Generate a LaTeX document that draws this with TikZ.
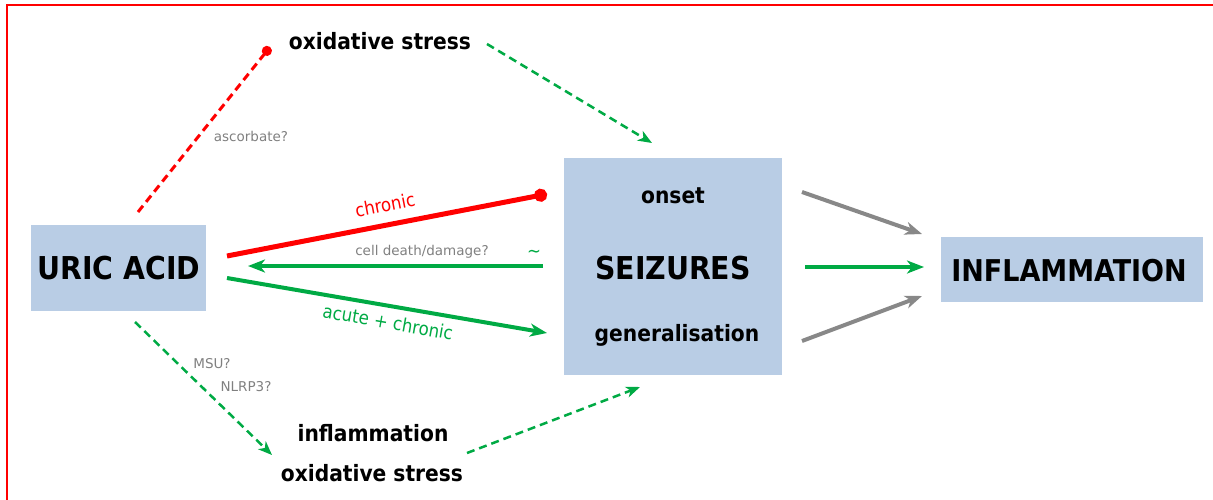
\documentclass[tikz,border=0pt]{standalone}
\usepackage{fontspec}
\setmainfont{DejaVu Sans}
\newfontfamily\cond{DejaVu Sans Condensed}
\usetikzlibrary{arrows.meta}
\definecolor{boxblue}{HTML}{B9CDE5}
\definecolor{mygreen}{HTML}{00AA44}
\definecolor{myred}{HTML}{FF0000}
\definecolor{mygray}{HTML}{888888}
\definecolor{labgray}{HTML}{808080}
\begin{document}
\begin{tikzpicture}[x=1pt,y=-1pt,
  box/.style={fill=boxblue,draw=none,inner sep=0pt},
  big/.style={font=\cond\bfseries\fontsize{31.5}{31.5}\selectfont},
  mid/.style={font=\cond\bfseries\fontsize{22.5}{22.5}\selectfont},
  lab/.style={font=\fontsize{13.5}{13.5}\selectfont,text=labgray,inner sep=0pt},
  colab/.style={font=\cond\fontsize{18.5}{18.5}\selectfont,inner sep=0pt},
  tip/.style={-{Stealth[length=17pt,width=13pt,inset=5pt]}},
  greensolid/.style={draw=mygreen,line width=4pt,tip},
  greendash/.style={draw=mygreen,line width=2.5pt,dash pattern=on 8pt off 5pt,-{Stealth[length=14pt,width=11pt,inset=4pt]}},
  graysolid/.style={draw=mygray,line width=4pt,tip},
]
\useasboundingbox (0,0) rectangle (1213,499);
\draw[myred,line width=1.5pt] (1220,5) -- (7,5) -- (7,510);

% boxes
\fill[box] (31,225) rectangle (206,311);
\node[big] (uric) at (119,268) {URIC ACID};
\fill[box] (564,158) rectangle (782,375);
\node[mid] (onset) at (673,196) {onset};
\node[big] (seiz) at (673,268) {SEIZURES};
\node[mid] (gen) at (677,335) {generalisation};
\fill[box] (941,237) rectangle (1203,302);
\node[font=\cond\bfseries\fontsize{30}{30}\selectfont] (infl) at (1069,271) {INFLAMMATION};

\node[mid] (ox1) at (380,41) {oxidative stress};
\node[mid] (infl2) at (373,433) {inflammation};
\node[mid] (ox2) at (372,473) {oxidative stress};

% coordinates
\coordinate (a1) at (138,212); \coordinate (a2) at (270,47);
\coordinate (b1) at (487,44); \coordinate (b2) at (652,143);
\coordinate (c1) at (227,256); \coordinate (c2) at (547,194);
\coordinate (d1) at (543,266); \coordinate (d2) at (248,266);
\coordinate (e1) at (227,278); \coordinate (e2) at (547,333);
\coordinate (f1) at (135,322); \coordinate (f2) at (272,455);
\coordinate (g1) at (467,453); \coordinate (g2) at (640,387);
\coordinate (h1) at (802,192); \coordinate (h2) at (922,234);
\coordinate (i1) at (805,267); \coordinate (i2) at (924,267);
\coordinate (j1) at (802,341); \coordinate (j2) at (922,296);

\draw[myred,line width=3pt,dash pattern=on 8pt off 5pt,-{Circle[length=10pt,width=10pt]}] (a1) -- (a2);
\draw[greendash] (b1) -- (b2);
\draw[myred,line width=5pt,-{Circle[length=13pt,width=13pt]}] (c1) -- (c2);
\draw[greensolid] (d1) -- (d2);
\draw[greensolid] (e1) -- (e2);
\draw[greendash] (f1) -- (f2);
\draw[greendash] (g1) -- (g2);
\draw[graysolid] (h1) -- (h2);
\draw[greensolid] (i1) -- (i2);
\draw[graysolid] (j1) -- (j2);

% labels
\node[lab] (asc) at (251,136) {ascorbate?};
\node[colab,text=myred,rotate=11] (chr) at (385,205) {chronic};
\node[lab] (cd) at (422,252) {cell death/damage?};
\node[colab,text=mygreen] (tl) at (534,254) {\textasciitilde};
\node[colab,text=mygreen,rotate=-10] (ac) at (388,322) {acute + chronic};
\node[lab] (msu) at (212,364) {MSU?};
\node[lab] (nl) at (246,387) {NLRP3?};
\end{tikzpicture}
\end{document}
